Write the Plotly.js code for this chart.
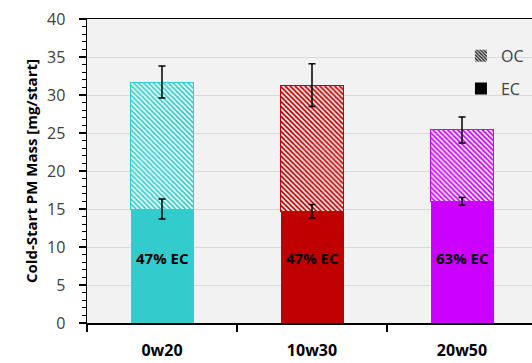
<!DOCTYPE html>
<html><head><meta charset="utf-8">
<script src="https://cdn.plot.ly/plotly-3.0.1.min.js"></script>
<style>html,body{margin:0;padding:0;overflow:hidden;width:532px;height:363px;background:#fff}</style>
</head><body><div id="chart"></div>
<script>
const categories = ['0w20', '10w30', '20w50'];
const ecValues = [15.0, 14.7, 16.0];
const totalValues = [31.7, 31.3, 25.4];
const ecErr = [1.3, 0.9, 0.5];
const totalErr = [2.1, 2.8, 1.7];
const ecLabels = ['47% EC', '47% EC', '63% EC'];
const barColors = ['#33CCCC', '#C00000', '#CC00FF'];
const legendNames = ['OC', 'EC'];

const ocValues = totalValues.map((t, i) => +(t - ecValues[i]).toFixed(2));

const traces = [];
categories.forEach((c, i) => {
  traces.push({
    type: 'bar', x: [c], y: [ecValues[i]], width: 0.42,
    marker: {color: barColors[i], line: {width: 0}},
    showlegend: false, hoverinfo: 'skip'
  });
  traces.push({
    type: 'bar', x: [c], y: [ocValues[i]], width: 0.42,
    marker: {color: barColors[i], line: {width: 1, color: barColors[i]},
      pattern: {shape: '\\', fgcolor: '#ffffff', bgcolor: barColors[i], size: 3.5, solidity: 0.45, fillmode: 'replace'}},
    showlegend: false, hoverinfo: 'skip'
  });
});
traces.push({type: 'bar', x: [categories[0]], y: [0], name: legendNames[0], legendgroup: 'oc',
  marker: {color: '#000', line: {width: 0}, pattern: {shape: '\\', fgcolor: '#ffffff', bgcolor: '#222', size: 3, solidity: 0.4}}});
traces.push({type: 'bar', x: [categories[0]], y: [0], name: legendNames[1], legendgroup: 'ec',
  marker: {color: '#000', line: {width: 0}}});
// error bars drawn above the bars
traces.push({type: 'scatter', mode: 'markers', x: categories, y: ecValues,
  marker: {size: 1, opacity: 0}, showlegend: false, hoverinfo: 'skip',
  error_y: {type: 'data', array: ecErr, color: '#000', thickness: 1.5, width: 3.5}});
traces.push({type: 'scatter', mode: 'markers', x: categories, y: totalValues,
  marker: {size: 1, opacity: 0}, showlegend: false, hoverinfo: 'skip',
  error_y: {type: 'data', array: totalErr, color: '#000', thickness: 1.5, width: 3.5}});

const annotations = categories.map((c, i) => ({
  x: c, y: 8.6, xref: 'x', yref: 'y', text: '<b>' + ecLabels[i] + '</b>', showarrow: false,
  font: {family: 'Open Sans, sans-serif', size: 15, color: '#000'}
}));

const layout = {
  width: 537, height: 363,
  margin: {l: 87, r: 0, t: 19, b: 40, autoexpand: false},
  paper_bgcolor: '#ffffff', plot_bgcolor: '#f2f2f2',
  barmode: 'stack', bargap: 0.58,
  font: {family: 'Open Sans, sans-serif', color: '#404040'},
  showlegend: true,
  legend: {x: 0.831, y: 0.935, xanchor: 'left', yanchor: 'top', bgcolor: 'rgba(0,0,0,0)',
    font: {size: 16, color: '#404040'}, tracegroupgap: 9, itemwidth: 30, traceorder: 'grouped'},
  xaxis: {type: 'category', range: [-0.5, 2.5], tickson: 'boundaries', ticks: 'outside', ticklen: 7,
    tickcolor: '#000', tickwidth: 1.5, showline: true, linecolor: '#000', linewidth: 1.5, mirror: true,
    showgrid: false, tickfont: {size: 16, color: '#000', weight: 'bold'}, ticklabelstandoff: 12, fixedrange: true},
  yaxis: {range: [0, 40], dtick: 5, ticks: 'outside', ticklen: 7, tickcolor: '#000', tickwidth: 1.5,
    showline: true, linecolor: '#000', linewidth: 1.5, gridcolor: '#d9d9d9', gridwidth: 1,
    zeroline: false, tickfont: {size: 16, color: '#404040'}, ticklabelstandoff: 10,
    minor: {dtick: 1, ticks: 'outside', ticklen: 4, tickcolor: '#000', tickwidth: 1, showgrid: false},
    title: {text: '<b>Cold-Start PM Mass [mg/start]</b>', font: {size: 15, color: '#000'}, standoff: 6}},
  annotations: annotations
};

Plotly.newPlot('chart', traces, layout, {displayModeBar: false, staticPlot: true});
</script></body></html>
